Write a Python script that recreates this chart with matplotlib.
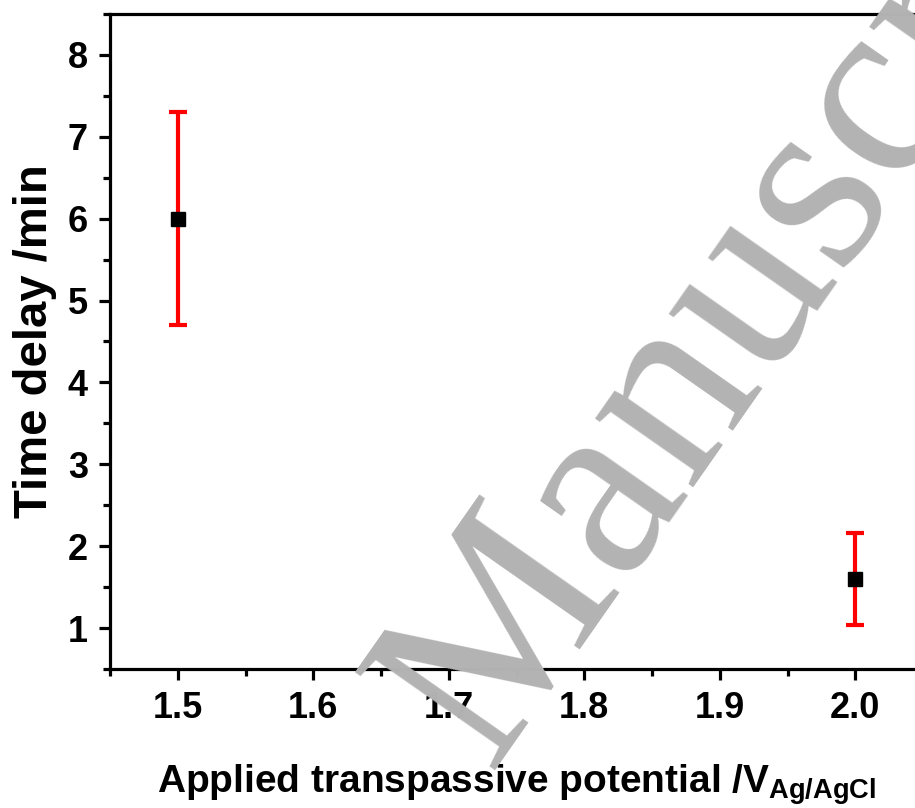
import matplotlib
matplotlib.use("Agg")
import matplotlib.pyplot as plt
from matplotlib.ticker import MultipleLocator, FormatStrFormatter

# Data
potential = [1.5, 2.0]
time_delay = [6.0, 1.6]
error = [1.3, 0.56]

plt.rcParams['font.family'] = ['Liberation Sans', 'DejaVu Sans']
plt.rcParams['mathtext.fontset'] = 'custom'
plt.rcParams['mathtext.bf'] = 'Liberation Sans:bold'

fig = plt.figure(figsize=(9.15, 8.08), dpi=100)
ax = fig.add_axes([110/915, 1 - 669/808, (923 - 110)/915, (669 - 14)/808])

# Watermark behind everything
fig.text(488/915, 1 - 770/808, "Manuscr", family='Liberation Serif', fontsize=188,
         fontweight='normal', color='#b3b3b3', rotation=55, rotation_mode='anchor',
         ha='left', va='baseline', zorder=0)
ax.set_facecolor('none')

ax.errorbar(potential, time_delay, yerr=error, fmt='s', color='black', ms=9.5,
            ecolor='red', elinewidth=3, capsize=6.5, capthick=3, zorder=3)

ax.set_xlim(1.45, 2.05)
ax.set_ylim(0.5, 8.5)
ax.xaxis.set_major_locator(MultipleLocator(0.1))
ax.xaxis.set_minor_locator(MultipleLocator(0.05))
ax.yaxis.set_major_locator(MultipleLocator(1))
ax.yaxis.set_minor_locator(MultipleLocator(0.5))
ax.xaxis.set_major_formatter(FormatStrFormatter('%.1f'))
ax.set_yticks([1, 2, 3, 4, 5, 6, 7, 8])

for s in ax.spines.values():
    s.set_linewidth(2.3)
ax.tick_params(which='major', direction='out', length=8, width=2.3, labelsize=26, pad=8)
ax.tick_params(which='minor', direction='out', length=5, width=2.3)
ax.tick_params(top=False, right=False)
for lab in ax.get_xticklabels() + ax.get_yticklabels():
    lab.set_fontweight('bold')

ax.set_ylabel("Time delay /min", fontsize=34, fontweight='bold', labelpad=8)
ax.set_xlabel(r"Applied transpassive potential /V$_{\mathbf{Ag/AgCl}}$", fontsize=28,
              fontweight='bold', labelpad=26)

fig.savefig("out.png", dpi=100)
